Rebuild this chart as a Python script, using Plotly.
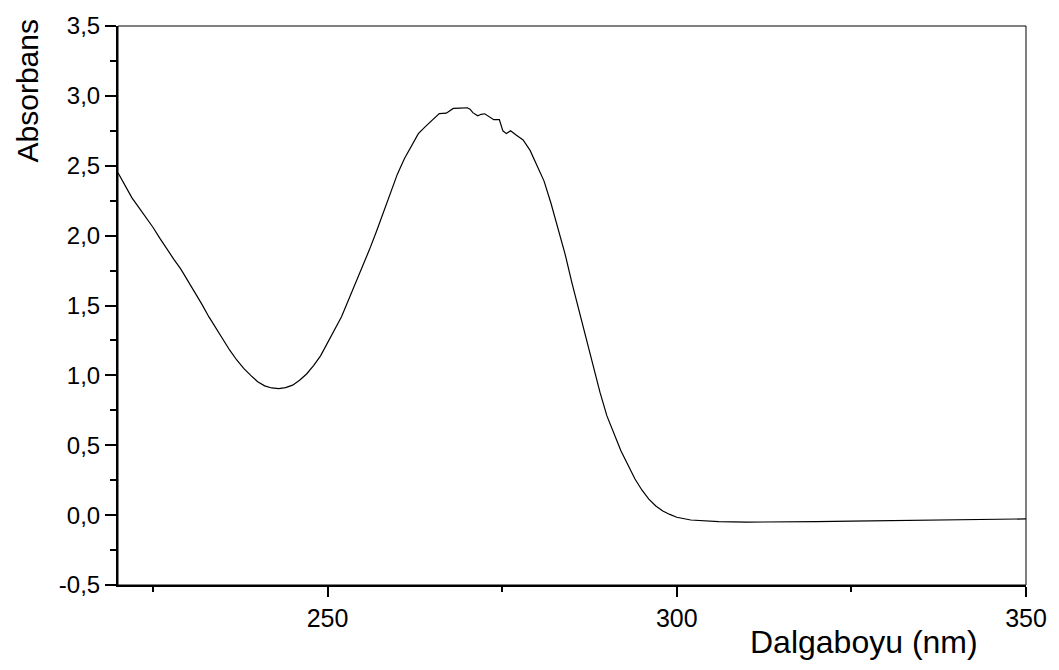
import plotly.graph_objects as go

wavelength = [220, 221, 222, 223, 224, 225, 226, 227, 228, 229, 230, 231, 232, 233, 234, 235,
              236, 237, 238, 239, 240, 241, 242, 243, 244, 245, 246, 247, 248, 249, 250, 251,
              252, 253, 254, 255, 256, 257, 258, 259, 260, 261, 262, 263, 264, 265, 265.5, 266,
              267, 267.5, 268, 269, 270, 270.4, 270.8, 271.5, 272, 272.5, 273, 273.8, 274.6,
              275.1, 275.6, 276.2, 277, 278, 279, 280, 281, 282, 283, 284, 285, 286, 287, 288,
              289, 290, 291, 292, 293, 294, 295, 296, 297, 298, 299, 300, 302, 304, 306, 310,
              315, 320, 325, 330, 335, 340, 345, 350]
absorbance = [2.45, 2.36, 2.27, 2.20, 2.13, 2.06, 1.98, 1.90, 1.83, 1.76, 1.68, 1.60, 1.51, 1.42,
              1.34, 1.26, 1.18, 1.11, 1.05, 1.00, 0.955, 0.925, 0.910, 0.905, 0.912, 0.93, 0.965,
              1.01, 1.07, 1.14, 1.23, 1.32, 1.42, 1.54, 1.66, 1.77, 1.90, 2.03, 2.17, 2.31, 2.44,
              2.55, 2.64, 2.73, 2.78, 2.83, 2.855, 2.873, 2.876, 2.895, 2.91, 2.913, 2.915, 2.905,
              2.88, 2.857, 2.868, 2.872, 2.855, 2.83, 2.83, 2.75, 2.73, 2.75, 2.72, 2.685, 2.61,
              2.50, 2.39, 2.23, 2.05, 1.87, 1.66, 1.46, 1.27, 1.07, 0.88, 0.71, 0.58, 0.46, 0.36,
              0.26, 0.18, 0.115, 0.065, 0.03, 0.005, -0.015, -0.035, -0.043, -0.046, -0.05,
              -0.05, -0.047, -0.043, -0.04, -0.036, -0.032, -0.029, -0.027]

x_ticks = [250, 300, 350]
x_tick_labels = ["250", "300", "350"]
x_minor = [225, 275, 325]
y_ticks = [-0.5, 0.0, 0.5, 1.0, 1.5, 2.0, 2.5, 3.0, 3.5]
y_tick_labels = ["-0,5", "0,0", "0,5", "1,0", "1,5", "2,0", "2,5", "3,0", "3,5"]
y_minor = [-0.25, 0.25, 0.75, 1.25, 1.75, 2.25, 2.75, 3.25]
x_title = "Dalgaboyu (nm)"
y_title = "Absorbans"

font_family = "Liberation Sans, Arial, sans-serif"

fig = go.Figure()
fig.add_trace(go.Scatter(x=wavelength, y=absorbance, mode="lines",
                         line=dict(color="black", width=1.2), showlegend=False))

L, R, T, B = 118, 33, 13, 85
W, H = 1059, 670
pw, ph = W - L - R, H - T - B

fig.update_layout(
    width=W, height=H,
    margin=dict(l=L, r=R, t=T, b=B),
    paper_bgcolor="white", plot_bgcolor="white",
    font=dict(family=font_family, color="black"),
    xaxis=dict(range=[220, 350], showgrid=False, zeroline=False,
               showline=True, linecolor="black", linewidth=2,
               ticks="outside", ticklen=10, tickwidth=2, tickcolor="black",
               tickvals=x_ticks, ticktext=x_tick_labels, ticklabeloverflow="allow",
               tickfont=dict(size=25, family=font_family),
               minor=dict(tickvals=x_minor, ticks="outside", ticklen=5,
                          tickwidth=2, tickcolor="black", showgrid=False)),
    yaxis=dict(range=[-0.5, 3.5], showgrid=False, zeroline=False,
               showline=True, linecolor="black", linewidth=2,
               ticks="outside", ticklen=11, tickwidth=2, tickcolor="black",
               tickvals=y_ticks, ticktext=y_tick_labels, ticklabeloverflow="allow",
               tickfont=dict(size=24, family=font_family),
               minor=dict(tickvals=y_minor, ticks="outside", ticklen=6,
                          tickwidth=2, tickcolor="black", showgrid=False)),
    shapes=[dict(type="rect", xref="paper", yref="paper", x0=0, x1=1, y0=0, y1=1,
                 line=dict(color="black", width=1), layer="below")],
    annotations=[
        dict(text=y_title, xref="paper", yref="paper",
             x=(27 - L) / pw, y=(H - B - 80) / ph, xanchor="center", yanchor="middle",
             textangle=-90, showarrow=False, font=dict(size=30, family=font_family)),
        dict(text=x_title, xref="paper", yref="paper",
             x=(864 - L) / pw, y=(H - B - 643) / ph, xanchor="center", yanchor="middle",
             showarrow=False, font=dict(size=32, family=font_family)),
    ],
)

fig.write_html("out.html")
